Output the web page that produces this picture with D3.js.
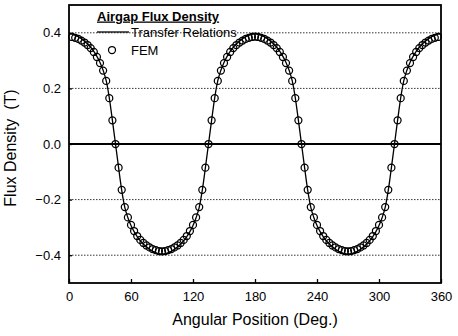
<!DOCTYPE html>
<html>
<head>
<meta charset="utf-8">
<script src="https://cdn.jsdelivr.net/npm/d3@7"></script>
<style>
  body { margin: 0; background: #fff; }
  text { font-family: "Liberation Sans", Arial, sans-serif; fill: #000; }
</style>
</head>
<body>
<div id="chart"></div>
<script>
// angular position (deg.)
var angles = [0, 3, 6, 9, 12, 15, 18, 21, 24, 27, 30, 33, 36, 39, 42, 45, 48, 51, 54, 57, 60,
  63, 66, 69, 72, 75, 78, 81, 84, 87, 90, 93, 96, 99, 102, 105, 108, 111, 114, 117, 120,
  123, 126, 129, 132, 135, 138, 141, 144, 147, 150, 153, 156, 159, 162, 165, 168, 171, 174, 177, 180,
  183, 186, 189, 192, 195, 198, 201, 204, 207, 210, 213, 216, 219, 222, 225, 228, 231, 234, 237, 240,
  243, 246, 249, 252, 255, 258, 261, 264, 267, 270, 273, 276, 279, 282, 285, 288, 291, 294, 297, 300,
  303, 306, 309, 312, 315, 318, 321, 324, 327, 330, 333, 336, 339, 342, 345, 348, 351, 354, 357, 360];

// Transfer Relations (line)
var transferB = [.396, .395, .391, .386, .379, .370, .360, .348, .333, .315, .293, .265, .228, .166, .085, 0,
  -.085, -.166, -.228, -.265, -.293, -.315, -.333, -.348, -.360, -.370, -.379, -.386, -.391, -.395, -.396,
  -.395, -.391, -.386, -.379, -.370, -.360, -.348, -.333, -.315, -.293, -.265, -.228, -.166, -.085, 0,
  .085, .166, .228, .265, .293, .315, .333, .348, .360, .370, .379, .386, .391, .395, .396,
  .395, .391, .386, .379, .370, .360, .348, .333, .315, .293, .265, .228, .166, .085, 0,
  -.085, -.166, -.228, -.265, -.293, -.315, -.333, -.348, -.360, -.370, -.379, -.386, -.391, -.395, -.396,
  -.395, -.391, -.386, -.379, -.370, -.360, -.348, -.333, -.315, -.293, -.265, -.228, -.166, -.085, 0,
  .085, .166, .228, .265, .293, .315, .333, .348, .360, .370, .379, .386, .391, .395, .396];

// FEM (circles), no point at 0 and 360
var femB = [null, .385, .382, .378, .372, .365, .356, .345, .331, .313, .291, .264, .227, .165, .085, 0,
  -.085, -.165, -.227, -.264, -.291, -.313, -.331, -.345, -.356, -.365, -.372, -.378, -.382, -.385, -.386,
  -.385, -.382, -.378, -.372, -.365, -.356, -.345, -.331, -.313, -.291, -.264, -.227, -.165, -.085, 0,
  .085, .165, .227, .264, .291, .313, .331, .345, .356, .365, .372, .378, .382, .385, .386,
  .385, .382, .378, .372, .365, .356, .345, .331, .313, .291, .264, .227, .165, .085, 0,
  -.085, -.165, -.227, -.264, -.291, -.313, -.331, -.345, -.356, -.365, -.372, -.378, -.382, -.385, -.386,
  -.385, -.382, -.378, -.372, -.365, -.356, -.345, -.331, -.313, -.291, -.264, -.227, -.165, -.085, 0,
  .085, .165, .227, .264, .291, .313, .331, .345, .356, .365, .372, .378, .382, .385, null];

var xTicks = [0, 60, 120, 180, 240, 300, 360];
var yTicks = [-0.4, -0.2, 0.0, 0.2, 0.4];

var svgWidth = 458;
var svgHeight = 336;
var margin = { top: 5, right: 17, bottom: 53, left: 69 };
var width = svgWidth - margin.left - margin.right;
var height = svgHeight - margin.top - margin.bottom;

var svg = d3.select("#chart")
  .append("svg")
  .attr("width", svgWidth)
  .attr("height", svgHeight);

var chartGroup = svg.append("g")
  .attr("transform", `translate(${margin.left}, ${margin.top})`);

var x = d3.scaleLinear().domain([0, 360]).range([0, width]);
var y = d3.scaleLinear().domain([-0.5, 0.5]).range([height, 0]);

// grid lines
chartGroup.selectAll(".grid")
  .data(yTicks)
  .enter()
  .append("line")
  .attr("x1", 0)
  .attr("x2", width)
  .attr("y1", d => y(d))
  .attr("y2", d => y(d))
  .attr("stroke", "#000")
  .attr("stroke-width", d => d === 0 ? 1.8 : 0.8)
  .attr("stroke-dasharray", d => d === 0 ? null : "1.5,1.5");

// axes with inward ticks
var bottomAxis = d3.axisBottom(x).tickValues(xTicks).tickSize(-4).tickPadding(10).tickFormat(d3.format("d"));
var leftAxis = d3.axisLeft(y).tickValues(yTicks).tickSize(-3).tickPadding(8).tickFormat(d3.format(".1f"));

var xAxisG = chartGroup.append("g")
  .attr("transform", `translate(0, ${height})`)
  .call(bottomAxis);
var yAxisG = chartGroup.append("g")
  .call(leftAxis);

[xAxisG, yAxisG].forEach(function(g) {
  g.select(".domain").remove();
  g.selectAll(".tick line").attr("stroke", "#000").attr("stroke-width", 1.3);
  g.selectAll(".tick text")
    .attr("font-size", "13px")
    .attr("font-family", "'Liberation Sans', Arial, sans-serif")
    .attr("fill", "#000");
});
xAxisG.selectAll(".tick text").attr("dy", "0.6em");

// frame
chartGroup.append("rect")
  .attr("x", 0)
  .attr("y", 0)
  .attr("width", width)
  .attr("height", height)
  .attr("fill", "none")
  .attr("stroke", "#000")
  .attr("stroke-width", 1.8);

// transfer relations line
var lineData = angles.map((a, i) => ({ a: a, b: transferB[i] }));
var line = d3.line()
  .x(d => x(d.a))
  .y(d => y(d.b))
  .curve(d3.curveMonotoneX);

chartGroup.append("path")
  .datum(lineData)
  .attr("d", line)
  .attr("fill", "none")
  .attr("stroke", "#000")
  .attr("stroke-width", 1.3);

// FEM circles
var femData = angles.map((a, i) => ({ a: a, b: femB[i] })).filter(d => d.b !== null);
chartGroup.selectAll(".fem")
  .data(femData)
  .enter()
  .append("circle")
  .attr("class", "fem")
  .attr("cx", d => x(d.a))
  .attr("cy", d => y(d.b))
  .attr("r", 3.5)
  .attr("fill", "none")
  .attr("stroke", "#000")
  .attr("stroke-width", 1.25);

// legend
svg.append("text")
  .attr("x", 97)
  .attr("y", 20.5)
  .attr("font-size", "13px")
  .attr("font-weight", "bold")
  .attr("text-decoration", "underline")
  .text("Airgap Flux Density");

svg.append("line")
  .attr("x1", 97)
  .attr("x2", 129)
  .attr("y1", 32)
  .attr("y2", 32)
  .attr("stroke", "#000")
  .attr("stroke-width", 1.3);

svg.append("text")
  .attr("x", 131)
  .attr("y", 36.5)
  .attr("font-size", "13px")
  .text("Transfer Relations");

svg.append("circle")
  .attr("cx", 112)
  .attr("cy", 50)
  .attr("r", 3.5)
  .attr("fill", "none")
  .attr("stroke", "#000")
  .attr("stroke-width", 1.25);

svg.append("text")
  .attr("x", 131)
  .attr("y", 54.5)
  .attr("font-size", "13px")
  .text("FEM");

// axis titles
svg.append("text")
  .attr("transform", `translate(${margin.left + width / 2}, 325)`)
  .attr("text-anchor", "middle")
  .attr("font-size", "16px")
  .text("Angular Position (Deg.)");

svg.append("text")
  .attr("transform", "translate(16, 148) rotate(-90)")
  .attr("text-anchor", "middle")
  .attr("font-size", "16px")
  .style("white-space", "pre")
  .text("Flux Density  (T)");
</script>
</body>
</html>
